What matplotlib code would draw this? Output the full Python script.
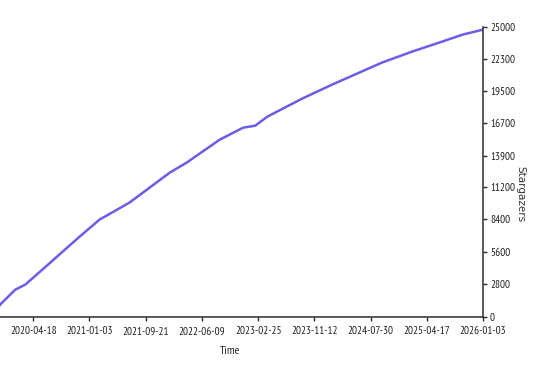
import matplotlib

matplotlib.use("Agg")
import matplotlib.dates as mdates  # noqa: E402
import matplotlib.pyplot as plt  # noqa: E402

# star history (date, cumulative stargazers)
dates = [
    "2019-10-05", "2019-11-15", "2020-01-24", "2020-03-11", "2020-07-05",
    "2020-09-21", "2020-11-18", "2021-02-18", "2021-07-07", "2021-09-26",
    "2022-01-10", "2022-03-30", "2022-08-30", "2022-12-17", "2023-02-11",
    "2023-04-08", "2023-09-17", "2024-02-03", "2024-09-21", "2025-02-08",
    "2025-06-27", "2025-10-01", "2026-01-03",
]
stars = [
    0, 1040, 2330, 2770, 4670,
    5960, 6910, 8380, 9850, 10970,
    12440, 13310, 15290, 16330, 16500,
    17280, 18840, 20050, 21950, 22900,
    23760, 24370, 24800,
]
x_start = "2019-07-31"  # axis origin, cropped off the left of the canvas
tick_dates = [
    "2020-04-18", "2021-01-03", "2021-09-21", "2022-06-09",
    "2023-02-25", "2023-11-12", "2024-07-30", "2025-04-17", "2026-01-03",
]
y_ticks = [0, 2800, 5600, 8400, 11200, 13900, 16700, 19500, 22300, 25000]

_LINE = "#6b5de6"
_AXIS = "#2b2b2b"
_TEXT = "#222222"
_TICK_FONT = ["PT Sans Narrow", "Roboto Condensed", "DejaVu Sans"]

x = mdates.datestr2num(dates)
xt = mdates.datestr2num(tick_dates)

fig = plt.figure(figsize=(5.38, 3.66), dpi=100, facecolor="white")
ax = fig.add_axes([-23 / 538, (366 - 316.7) / 366, 506 / 538, 289.4 / 366])
ax.plot(x, stars, color=_LINE, linewidth=1.8, solid_capstyle="round")
ax.set_xlim(mdates.datestr2num(x_start), xt[-1])
ax.set_ylim(0, 25000)

ax.spines["top"].set_visible(False)
ax.spines["left"].set_visible(False)
for s in ("bottom", "right"):
    ax.spines[s].set_color(_AXIS)
    ax.spines[s].set_linewidth(1.1)

ax.yaxis.tick_right()
ax.set_yticks(y_ticks)
ax.set_yticklabels([str(v) for v in y_ticks])
ax.set_xticks(xt)
ax.set_xticklabels(tick_dates)
ax.tick_params(axis="both", colors=_AXIS, length=3, width=1, labelsize=8)
ax.tick_params(axis="x", pad=4)
ax.tick_params(axis="y", pad=2)
for lab in ax.get_xticklabels() + ax.get_yticklabels():
    lab.set_family(_TICK_FONT)
    lab.set_color(_TEXT)

ax.set_xlabel("Time", fontsize=8.5, family=_TICK_FONT, color=_TEXT, labelpad=7)
fig.text(520 / 538, 1 - 194 / 366, "Stargazers", rotation=270, fontsize=7.5,
         ha="center", va="center", color="#333333")

fig.savefig("out.png", dpi=100, facecolor="white")
